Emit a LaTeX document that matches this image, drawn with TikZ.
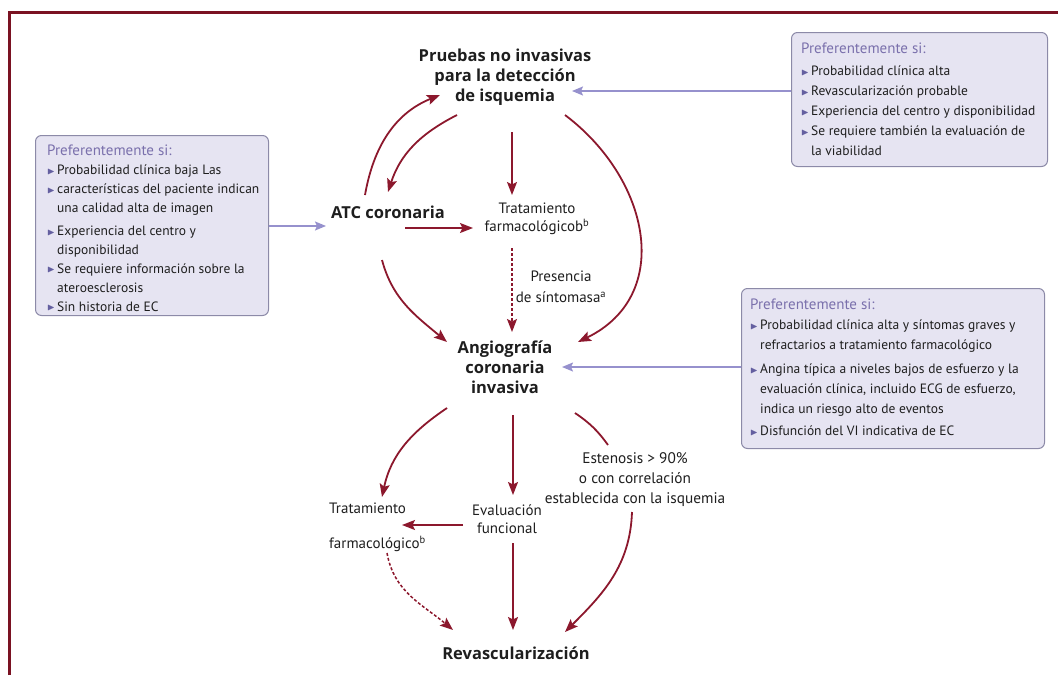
\documentclass[tikz,border=0pt]{standalone}
\usepackage{fontspec}
\usepackage{amssymb}
\setmainfont{PT Sans}
\newfontfamily\negrita{Open Sans}
\usetikzlibrary{arrows.meta}

\definecolor{rojo}{RGB}{140,24,45}
\definecolor{marcocol}{RGB}{122,18,34}
\definecolor{lila}{RGB}{150,145,205}
\definecolor{fondocaja}{RGB}{230,228,242}
\definecolor{bordecaja}{RGB}{140,138,168}
\definecolor{titcol}{RGB}{122,112,172}
\definecolor{bulcol}{RGB}{100,95,160}
\definecolor{texto}{RGB}{30,30,30}

\newcommand{\bl}{\makebox[10pt][l]{\color{bulcol}\raisebox{0.3pt}{\scalebox{0.75}{$\blacktriangleright$}}}}
\newcommand{\sg}{\hspace*{10pt}}
\newcommand{\pref}{{\color{titcol}\fontsize{15}{20}\selectfont Preferentemente si:}}

\begin{document}
\begin{tikzpicture}[x=1pt, y=1pt,
    flujo/.style={align=center, text=texto, inner sep=1pt, font=\fontsize{15}{19}\selectfont},
    negr/.style={flujo, font=\negrita\bfseries\fontsize{16.5}{20}\selectfont},
    caja/.style={draw=bordecaja, fill=fondocaja, rounded corners=6pt, line width=1pt, anchor=north west},
    cajatxt/.style={align=left, text=texto, inner sep=0pt, anchor=north west, font=\fontsize{13.5}{20}\selectfont},
    flecha/.style={-{Stealth[length=13pt, width=10pt, inset=2.5pt]}, rojo, line width=1.8pt},
    punt/.style={flecha, dash pattern=on 3pt off 2pt, line width=1.5pt},
    flila/.style={-{Stealth[length=11pt, width=9pt, inset=2pt]}, lila, line width=1.5pt}]
    \useasboundingbox (0,0) rectangle (1058,-675);

    % marco
    \draw[marcocol, line width=3pt] (9,-675) -- (9,-12) -- (1058,-12);

    % cajas de criterios
    \node[caja, minimum width=256, minimum height=134] (box1) at (791,-32) {};
    \node[cajatxt] (box1t) at ([shift={(10,-11)}]box1.north west) {\pref\\[2pt]
        \bl Probabilidad clínica alta\\
        \bl Revascularización probable\\
        \bl Experiencia del centro y disponibilidad\\
        \bl Se requiere también la evaluación de\\
        \sg la viabilidad};

    \node[caja, minimum width=233, minimum height=180] (box2) at (35,-135) {};
    \node[cajatxt, font=\fontsize{13.5}{18.9}\selectfont] (box2t) at ([shift={(12,-10)}]box2.north west) {\pref\\
        \bl Probabilidad clínica baja Las\\
        \bl características del paciente indican\\
        \sg una calidad alta de imagen\\[4pt]
        \bl Experiencia del centro y\\
        \sg disponibilidad\\
        \bl Se requiere información sobre la\\
        \sg ateroesclerosis\\
        \bl Sin historia de EC};

    \node[caja, minimum width=303, minimum height=160] (box3) at (741,-288) {};
    \node[cajatxt] (box3t) at ([shift={(9,-11)}]box3.north west) {\pref\\
        \bl Probabilidad clínica alta y síntomas graves y\\
        \sg refractarios a tratamiento farmacológico\\[4pt]
        \bl Angina típica a niveles bajos de esfuerzo y la\\
        \sg evaluación clínica, incluido ECG de esfuerzo,\\
        \sg indica un riesgo alto de eventos\\[2pt]
        \bl Disfunción del VI indicativa de EC};

    % nodos del flujo
    \node[negr] (pru) at (505,-77) {Pruebas no invasivas\\para la detección\\de isquemia};
    \node[negr] (atc) at (388,-212) {ATC coronaria};
    \node[flujo, font=\fontsize{15}{18}\selectfont] (trat) at (537,-219) {Tratamiento\\farmacológicob\textsuperscript{b}};
    \node[flujo, font=\fontsize{15}{21}\selectfont] (pres) at (561,-287) {Presencia\\de síntomasa\textsuperscript{a}};
    \node[negr] (angio) at (505,-367) {Angiografía\\coronaria\\invasiva};
    \node[flujo, anchor=west, align=left, font=\fontsize{15}{35}\selectfont] (trat2) at (328,-527) {Tratamiento\\farmacológico\textsuperscript{b}};
    \node[flujo, font=\fontsize{15}{18}\selectfont] (eval) at (507,-519) {Evaluación\\funcional};
    \node[flujo, font=\fontsize{15.3}{20}\selectfont] (esten) at (635,-480) {Estenosis > 90\%\\o con correlación\\establecida con la isquemia};
    \node[negr] (revas) at (516,-653) {Revascularización};

    % flechas de las cajas
    \coordinate (pruin) at ([shift={(67,-14)}]pru.center);
    \coordinate (atcin) at ([shift={(-62,-14)}]atc.center);
    \coordinate (angin) at ([xshift=57pt]angio.center);
    \draw[flila] (box1.west |- pruin) -- (pruin);
    \draw[flila] (box2.east |- atcin) -- (atcin);
    \draw[flila] (box3.west |- angin) -- (angin);

    % parte superior
    \draw[flecha] ([shift={(-23,17)}]atc.center) to[out=80, in=202] ([shift={(-65,-18)}]pru.center);
    \draw[flecha] ([shift={(-48,-38)}]pru.center) to[out=207, in=72] ([shift={(0,20)}]atc.center);
    \draw[flecha] ([shift={(7,-55)}]pru.center) -- ([shift={(-25,24)}]trat.center);
    \draw[flecha] ([shift={(17,-16)}]atc.center) -- ([shift={(-64,-9)}]trat.center);
    \draw[punt] ([shift={(-25,-29)}]trat.center) -- ([shift={(7,35)}]angio.center);
    \draw[flecha] ([shift={(-6,-48)}]atc.center) to[out=285, in=140] ([shift={(-58,25)}]angio.center);
    \draw[flecha] ([shift={(60,-38)}]pru.center) to[out=-37, in=26, looseness=1.2] ([shift={(73,25)}]angio.center);

    % parte inferior
    \draw[flecha] ([shift={(-58,-41)}]angio.center) to[out=214, in=78] ([shift={(54,30)}]trat2.west);
    \draw[flecha] ([shift={(8,-48)}]angio.center) -- ([shift={(6,24)}]eval.center);
    \draw[rojo, line width=1.8pt] ([shift={(70,-46)}]angio.center) to[bend left=10] ([shift={(-27,35)}]esten.center);
    \draw[flecha] ([shift={(-3,-32)}]esten.center) to[out=268, in=45] ([shift={(49,21)}]revas.center);
    \draw[flecha] ([shift={(-44,-6)}]eval.center) -- ([shift={(74,2)}]trat2.west);
    \draw[punt] ([shift={(59,-26)}]trat2.west) to[out=280, in=140] ([shift={(-63,23)}]revas.center);
    \draw[flecha] ([shift={(6,-24)}]eval.center) -- ([shift={(-3,23)}]revas.center);
\end{tikzpicture}
\end{document}
